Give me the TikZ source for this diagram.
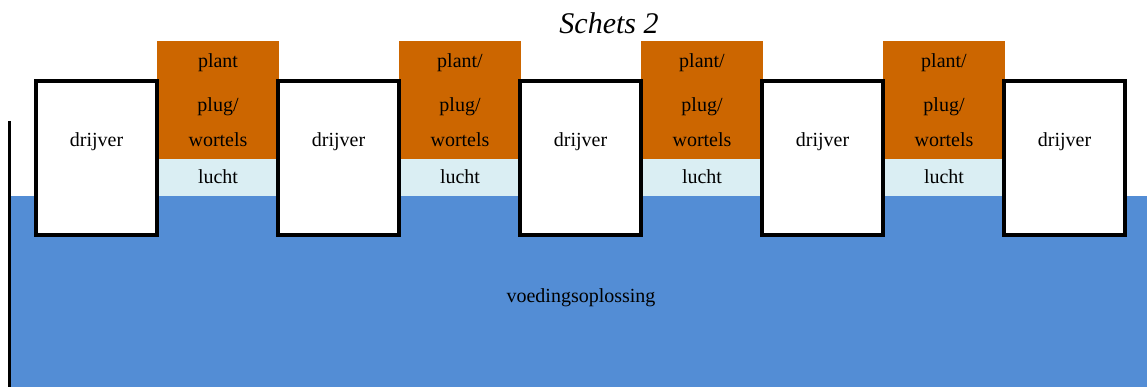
\documentclass[tikz,border=0pt]{standalone}
\usepackage{fontspec}
\setmainfont{Liberation Serif}
\definecolor{plantorange}{RGB}{204,102,0}
\definecolor{luchtblue}{RGB}{218,238,243}
\definecolor{waterblue}{RGB}{83,141,213}
\begin{document}
\begin{tikzpicture}[x=1pt,y=-1pt,
  lbl/.style={anchor=base, inner sep=0pt, font=\fontsize{20}{24}\selectfont},
  drijverbox/.style={draw=black, fill=white, line width=4pt, minimum width=121pt, minimum height=154pt, inner sep=0pt},
  plantbox/.style={fill=plantorange, minimum width=122pt, minimum height=118pt, inner sep=0pt},
  luchtbox/.style={fill=luchtblue, minimum width=122pt, minimum height=37pt, inner sep=0pt},
  waterbox/.style={fill=waterblue, draw=none}]
\useasboundingbox (0,0) rectangle (1147,387);
% water
\fill[waterbox] (11,196) rectangle (1147,387);
\node[lbl] (voeding) at (581,302) {voedingsoplossing};
% plant and lucht
\foreach \i in {0,1,2,3}{
  \node[plantbox] (plant\i) at ({218+242*\i},100) {};
  \node[luchtbox] (lucht\i) at ({218+242*\i},177.5) {};
  \node[lbl] (luchttxt\i) at ({218+242*\i},184) {lucht};
  \node[lbl] (plugtxt\i) at ({218+242*\i},112) {plug/};
  \node[lbl] (worteltxt\i) at ({218+242*\i},147) {wortels};
}
\node[lbl] (planttxt0) at (218,68) {plant};
\foreach \i in {1,2,3}{
  \node[lbl] (planttxt\i) at ({218+242*\i},68) {plant/};
}
% drijvers
\foreach \i in {0,1,2,3,4}{
  \node[drijverbox] (drijver\i) at ({96.5+242*\i},158) {};
  \node[lbl] (drijvertxt\i) at ({96.5+242*\i},147) {drijver};
}
% left wall
\coordinate (walltop) at (9.5,121);
\coordinate (wallbot) at (9.5,387);
\draw[line width=3pt] (walltop) -- (wallbot);
% title
\node[anchor=base, inner sep=0pt, font=\fontsize{30}{36}\selectfont\itshape] (title) at (609,34) {Schets 2};
\end{tikzpicture}
\end{document}
